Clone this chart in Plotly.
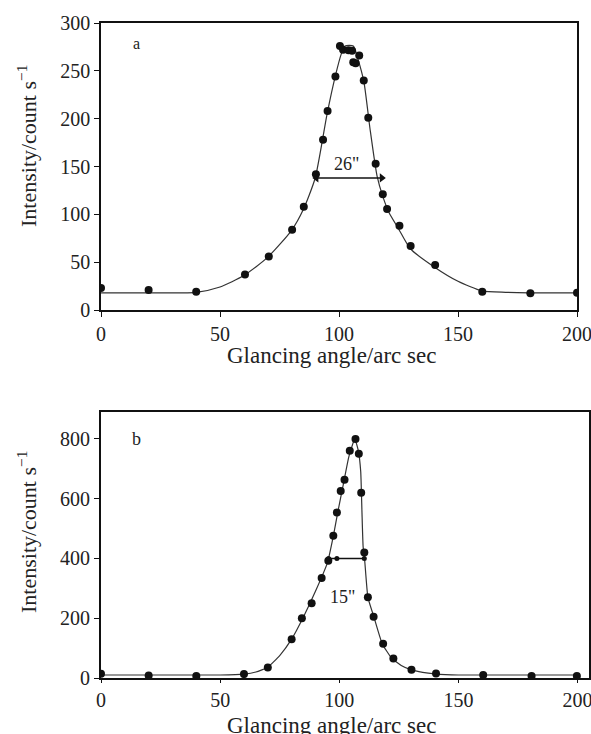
import plotly.graph_objects as go

# Panel a data
a_x = [0, 20, 40, 60.5, 70.5, 80.3, 85.2, 90.3, 93.3, 95.2, 98.5, 100.4, 101.7, 104, 105.5, 106, 107, 108.5, 110.4, 112.3, 115.4, 118.4, 120.2, 125.4, 130.1, 140.4, 160.2, 180.4, 200]
a_y = [23, 21, 19, 37, 56, 84, 108, 142, 178, 208, 244, 276, 272, 271.5, 271, 259, 258, 266, 240, 201, 153, 121, 105.5, 88, 67, 47, 19, 17.4, 18]
a_fit_x = [0, 20, 40, 50, 60, 70, 80, 85, 90, 95, 98.5, 101, 102.5, 106, 108, 110.5, 113, 116, 118.5, 121, 125, 130, 140, 150, 160, 170, 180, 200]
a_fit_y = [18, 18, 18.5, 24, 36, 55, 83, 105, 138, 205, 245, 268, 276, 276, 262, 238, 190, 140, 118, 102, 85, 64, 45, 30, 20, 18.5, 18, 18]
a_fwhm_x = [90.5, 118]
a_fwhm_y = [138, 138]

# Panel b data
b_x = [0, 20, 40, 60, 70, 80, 84.3, 88.4, 92.6, 95.4, 97.5, 99, 100.6, 102.2, 104.4, 106.8, 108.2, 109.2, 110.5, 112, 114.4, 118.4, 122.7, 130.3, 140.6, 160.4, 180.7, 199.7]
b_y = [14, 8, 7, 13, 35, 130, 200, 250, 335, 392, 476, 554, 626, 663, 760, 800, 750, 620, 420, 270, 205, 115, 65, 28, 15, 10, 7, 7]
b_fit_x = [0, 50, 60, 65, 70, 75, 80, 85, 90, 95, 97.5, 99.5, 101.5, 104, 106.5, 108, 109, 109.5, 110, 110.6, 112, 114.5, 118, 122, 126, 130, 135, 140, 150, 200]
b_fit_y = [10, 10, 13, 20, 36, 75, 130, 205, 290, 385, 475, 560, 640, 740, 800, 760, 690, 560, 440, 400, 270, 205, 115, 66, 42, 28, 19, 14, 10, 10]
b_fwhm_x = [95.5, 99, 110.5]
b_fwhm_y = [400, 400, 400]

font_family = "Liberation Serif, Times New Roman, serif"
black = "#111111"

fig = go.Figure()

# panel a
fig.add_trace(go.Scatter(x=a_fit_x, y=a_fit_y, mode="lines", line=dict(color="#333333", width=1.2, shape="spline", smoothing=0.6),
                         xaxis="x", yaxis="y", showlegend=False, hoverinfo="skip"))
fig.add_trace(go.Scatter(x=a_x, y=a_y, mode="markers", marker=dict(color=black, size=8),
                         xaxis="x", yaxis="y", showlegend=False))
fig.add_trace(go.Scatter(x=a_fwhm_x, y=a_fwhm_y, mode="lines+markers",
                         line=dict(color=black, width=1.5),
                         marker=dict(symbol=["triangle-left", "triangle-right"], size=8, color=black),
                         xaxis="x", yaxis="y", showlegend=False))

# panel b
fig.add_trace(go.Scatter(x=b_fit_x, y=b_fit_y, mode="lines", line=dict(color="#333333", width=1.2, shape="spline", smoothing=0.4),
                         xaxis="x2", yaxis="y2", showlegend=False, hoverinfo="skip"))
fig.add_trace(go.Scatter(x=b_x, y=b_y, mode="markers", marker=dict(color=black, size=8),
                         xaxis="x2", yaxis="y2", showlegend=False))
fig.add_trace(go.Scatter(x=b_fwhm_x, y=b_fwhm_y, mode="lines+markers",
                         line=dict(color=black, width=1.5),
                         marker=dict(size=5, color=black),
                         xaxis="x2", yaxis="y2", showlegend=False))

W, H = 591, 734
L, R, T, B = 101, 2, 23, 56
PW, PH = W - L - R, H - T - B

def px_x(p):
    return (p - L) / PW

def px_y(p):
    return (H - B - p) / PH

axis_common = dict(showgrid=False, zeroline=False, showline=True, linecolor=black, mirror=True,
                   ticks="outside", tickcolor=black, automargin=False,
                   ticklabeloverflow="allow",
                   tickfont=dict(family=font_family, size=20, color="#222222"))

fig.update_layout(
    width=W, height=H,
    margin=dict(l=L, r=R, t=T, b=B, autoexpand=False),
    paper_bgcolor="white", plot_bgcolor="white",
    font=dict(family=font_family, color="#222222"),
    xaxis=dict(domain=[px_x(101), px_x(577)], range=[0, 200], anchor="y", ticklen=5,
               tickvals=[0, 50, 100, 150, 200], linewidth=1.5, **axis_common),
    yaxis=dict(domain=[px_y(310), px_y(23)], range=[0, 300], anchor="x", ticklen=5,
               tickvals=[0, 50, 100, 150, 200, 250, 300], linewidth=1.5, **axis_common),
    xaxis2=dict(domain=[px_x(101), px_x(589)], range=[0, 204.8], anchor="y2", ticklen=3,
                tickvals=[0, 50, 100, 150, 200], linewidth=2, **axis_common),
    yaxis2=dict(domain=[px_y(678), px_y(412)], range=[0, 890], anchor="x2", ticklen=5,
                tickvals=[0, 200, 400, 600, 800], linewidth=2, **axis_common),
)

annotations = [
    dict(text="a", x=15, y=279, xref="x", yref="y", showarrow=False, font=dict(size=16)),
    dict(text="26\"", x=103, y=153, xref="x", yref="y", showarrow=False, font=dict(size=18)),
    dict(text="b", x=15, y=800, xref="x2", yref="y2", showarrow=False, font=dict(size=18)),
    dict(text="15\"", x=101.5, y=272, xref="x2", yref="y2", showarrow=False, font=dict(size=18)),
    dict(text="Glancing angle/arc sec", x=px_x(331), y=px_y(355), xref="paper", yref="paper",
         showarrow=False, font=dict(size=23), xanchor="center", yanchor="middle"),
    dict(text="Glancing angle/arc sec", x=px_x(331), y=px_y(725), xref="paper", yref="paper",
         showarrow=False, font=dict(size=23), xanchor="center", yanchor="middle"),
    dict(text="Intensity/count s<sup>−1</sup>", x=px_x(27), y=px_y(146), xref="paper", yref="paper",
         showarrow=False, font=dict(size=22), textangle=-90, xanchor="center", yanchor="middle"),
    dict(text="Intensity/count s<sup>−1</sup>", x=px_x(27), y=px_y(532), xref="paper", yref="paper",
         showarrow=False, font=dict(size=22), textangle=-90, xanchor="center", yanchor="middle"),
]
fig.update_layout(annotations=annotations)

fig.write_html("out.html", config={"displayModeBar": False},
               post_script="document.body.style.margin='0';")
